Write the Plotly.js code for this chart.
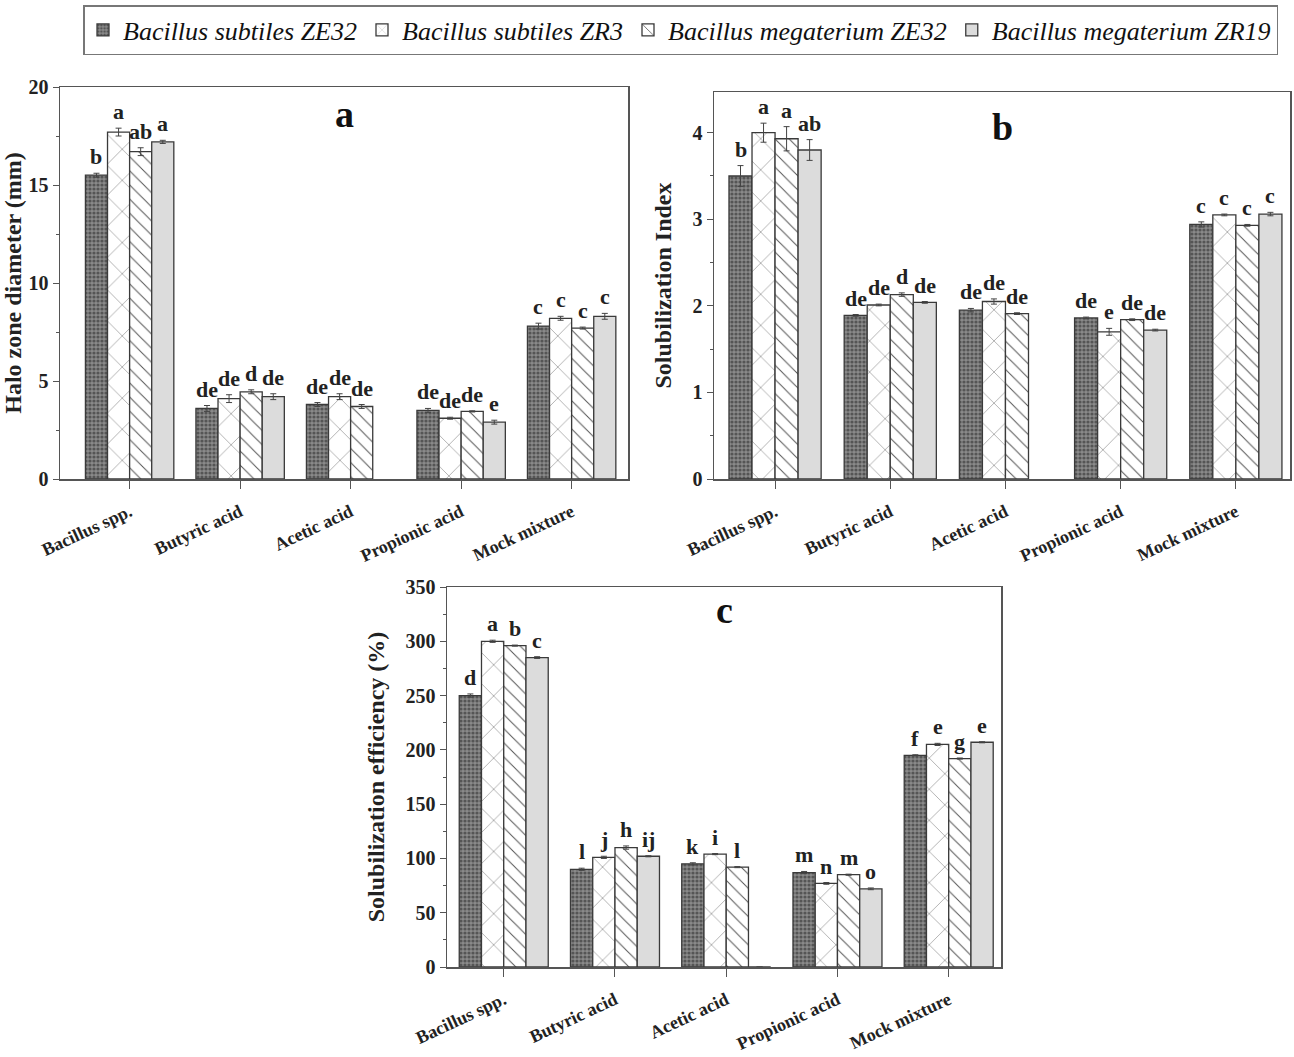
<!DOCTYPE html>
<html><head><meta charset="utf-8">
<script src="https://cdn.plot.ly/plotly-3.0.1.min.js"></script>
<style>html,body{margin:0;padding:0;background:#fff}#chart{width:1294px;height:1057px}</style>
</head><body><div id="chart"></div>
<script>
const categories = ["Bacillus spp.", "Butyric acid", "Acetic acid", "Propionic acid", "Mock mixture"];
const seriesNames = ["Bacillus subtiles ZE32", "Bacillus subtiles ZR3", "Bacillus megaterium ZE32", "Bacillus megaterium ZR19"];

// Panel a: Halo zone diameter (mm)
const haloZE32 = [15.5, 3.6, 3.8, 3.5, 7.8];
const haloZR3 = [17.7, 4.1, 4.2, 3.1, 8.2];
const haloMegZE32 = [16.7, 4.45, 3.7, 3.45, 7.7];
const haloMegZR19 = [17.2, 4.2, null, 2.9, 8.3];
const haloErrZE32 = [0.1, 0.15, 0.1, 0.1, 0.15];
const haloErrZR3 = [0.2, 0.2, 0.15, 0.05, 0.1];
const haloErrMegZE32 = [0.2, 0.1, 0.1, 0.03, 0.05];
const haloErrMegZR19 = [0.08, 0.15, null, 0.1, 0.15];
const haloLetZE32 = ["b", "de", "de", "de", "c"];
const haloLetZR3 = ["a", "de", "de", "de", "c"];
const haloLetMegZE32 = ["ab", "d", "de", "de", "c"];
const haloLetMegZR19 = ["a", "de", "", "e", "c"];

// Panel b: Solubilization Index
const siZE32 = [3.5, 1.89, 1.95, 1.86, 2.94];
const siZR3 = [4.0, 2.01, 2.05, 1.70, 3.05];
const siMegZE32 = [3.93, 2.13, 1.91, 1.84, 2.93];
const siMegZR19 = [3.8, 2.04, null, 1.72, 3.06];
const siErrZE32 = [0.12, 0.01, 0.02, 0.01, 0.03];
const siErrZR3 = [0.11, 0.01, 0.03, 0.04, 0.01];
const siErrMegZE32 = [0.14, 0.02, 0.01, 0.01, 0.01];
const siErrMegZR19 = [0.12, 0.01, null, 0.01, 0.02];
const siLetZE32 = ["b", "de", "de", "de", "c"];
const siLetZR3 = ["a", "de", "de", "e", "c"];
const siLetMegZE32 = ["a", "d", "de", "de", "c"];
const siLetMegZR19 = ["ab", "de", "", "de", "c"];

// Panel c: Solubilization efficiency (%)
const seZE32 = [250, 90, 95, 87, 195];
const seZR3 = [300, 101, 104, 77, 205];
const seMegZE32 = [296, 110, 92, 85, 192];
const seMegZR19 = [285, 102, 0, 72, 207];
const seErrZE32 = [1.5, 1, 1, 1, 0.5];
const seErrZR3 = [1, 1, 0.5, 0.8, 1];
const seErrMegZE32 = [0.5, 1.5, 0.5, 0.5, 0.5];
const seErrMegZR19 = [0.8, 0.5, 0, 0.8, 0.5];
const seLetZE32 = ["d", "l", "k", "m", "f"];
const seLetZR3 = ["a", "j", "i", "n", "e"];
const seLetMegZE32 = ["b", "h", "l", "m", "g"];
const seLetMegZR19 = ["c", "ij", "", "o", "e"];

const styles = [
  {color: "#777777", pattern: {shape: ".", size: 4, solidity: 0.5, fgcolor: "#555555", bgcolor: "#8a8a8a"}},
  {color: "#ffffff", pattern: {shape: "x", size: 22, solidity: 0.04, fgcolor: "#555555", bgcolor: "#ffffff"}},
  {color: "#ffffff", pattern: {shape: "\\", size: 10, solidity: 0.1, fgcolor: "#555555", bgcolor: "#ffffff"}},
  {color: "#dcdcdc", pattern: {shape: ""}}
];

const panels = [
  {vals: [haloZE32, haloZR3, haloMegZE32, haloMegZR19], errs: [haloErrZE32, haloErrZR3, haloErrMegZE32, haloErrMegZR19], lets: [haloLetZE32, haloLetZR3, haloLetMegZE32, haloLetMegZR19], xa: "x", ya: "y"},
  {vals: [siZE32, siZR3, siMegZE32, siMegZR19], errs: [siErrZE32, siErrZR3, siErrMegZE32, siErrMegZR19], lets: [siLetZE32, siLetZR3, siLetMegZE32, siLetMegZR19], xa: "x2", ya: "y2"},
  {vals: [seZE32, seZR3, seMegZE32, seMegZR19], errs: [seErrZE32, seErrZR3, seErrMegZE32, seErrMegZR19], lets: [seLetZE32, seLetZR3, seLetMegZE32, seLetMegZR19], xa: "x3", ya: "y3"}
];

const serif = "Liberation Serif, Times New Roman, serif";
const traces = [];
const annotations = [];
panels.forEach((p, pi) => {
  p.vals.forEach((v, si) => {
    traces.push({
      type: "bar", x: categories, y: v, name: seriesNames[si],
      xaxis: p.xa, yaxis: p.ya, showlegend: pi === 0, legendgroup: "s" + si,
      marker: {color: styles[si].color, pattern: styles[si].pattern, line: {color: "#3a3a3a", width: 1.3}},
      error_y: {type: "data", array: p.errs[si], visible: true, color: "#444", thickness: 1, width: 3}
    });
    p.lets[si].forEach((t, ci) => {
      if (!t || v[ci] === null) return;
      annotations.push({
        xref: p.xa, yref: p.ya, x: ci + (si - 1.5) * 0.2, y: v[ci] + (p.errs[si][ci] || 0),
        text: t, showarrow: false, yanchor: "bottom", yshift: 2,
        font: {family: serif, size: 22, color: "#222", weight: "bold"}
      });
    });
  });
});

const W = 1294, H = 1057;
const dx = (a, b) => [a / W, b / W];
const dy = (top, bot) => [1 - bot / H, 1 - top / H];

function xAxis(dom, range, anchor) {
  return {domain: dom, range: range, anchor: anchor, type: "category",
    showline: true, mirror: true, linecolor: "#555", linewidth: 1.5,
    ticks: "outside", ticklen: 8, tickcolor: "#555", tickangle: -25, ticklabelstandoff: 6,
    tickfont: {family: serif, size: 18, color: "#222", weight: "bold"}, showgrid: false, zeroline: false};
}
function yAxis(dom, range, anchor, dtick, title) {
  return {domain: dom, range: range, anchor: anchor, dtick: dtick,
    showline: true, mirror: true, linecolor: "#555", linewidth: 1.5,
    ticks: "outside", ticklen: 6, tickcolor: "#555",
    minor: {ticks: "outside", ticklen: 3, dtick: dtick / 2, tickcolor: "#555"},
    tickfont: {family: serif, size: 20, color: "#222", weight: "bold"}, showgrid: false, zeroline: false,
    title: {text: title, font: {family: serif, size: 24, color: "#222", weight: "bold"}, standoff: 14}};
}

const panelLabels = [
  {xref: "x domain", yref: "y domain", x: 0.5, y: 0.93, text: "a"},
  {xref: "x2 domain", yref: "y2 domain", x: 0.5, y: 0.91, text: "b"},
  {xref: "x3 domain", yref: "y3 domain", x: 0.5, y: 0.94, text: "c"}
];
panelLabels.forEach(l => annotations.push(Object.assign(l, {showarrow: false, yanchor: "middle",
  font: {family: serif, size: 38, color: "#111", weight: "bold"}})));

const layout = {
  width: W, height: H, margin: {l: 0, r: 0, t: 0, b: 0},
  paper_bgcolor: "#fff", plot_bgcolor: "#fff",
  barmode: "group", bargap: 0.2, bargroupgap: 0,
  xaxis: xAxis(dx(60, 628), [-0.63, 4.51], "y"),
  yaxis: yAxis(dy(87, 479), [0, 20], "x", 5, "Halo zone diameter (mm)"),
  xaxis2: xAxis(dx(714, 1290), [-0.53, 4.47], "y2"),
  yaxis2: yAxis(dy(92, 479), [0, 4.47], "x2", 1, "Solubilization Index"),
  xaxis3: xAxis(dx(447, 1001), [-0.51, 4.47], "y3"),
  yaxis3: yAxis(dy(587, 967), [0, 350], "x3", 50, "Solubilization efficiency (%)"),
  legend: {orientation: "h", x: 83 / W, y: 1 - 5 / H, xanchor: "left", yanchor: "top",
    bordercolor: "#777", borderwidth: 1.5, bgcolor: "#fff",
    font: {family: serif, size: 26, color: "#111", style: "italic"}, itemwidth: 30, tracegroupgap: 0},
  annotations: annotations
};

Plotly.newPlot("chart", traces, layout, {displayModeBar: false, staticPlot: true});
</script>
</body></html>
